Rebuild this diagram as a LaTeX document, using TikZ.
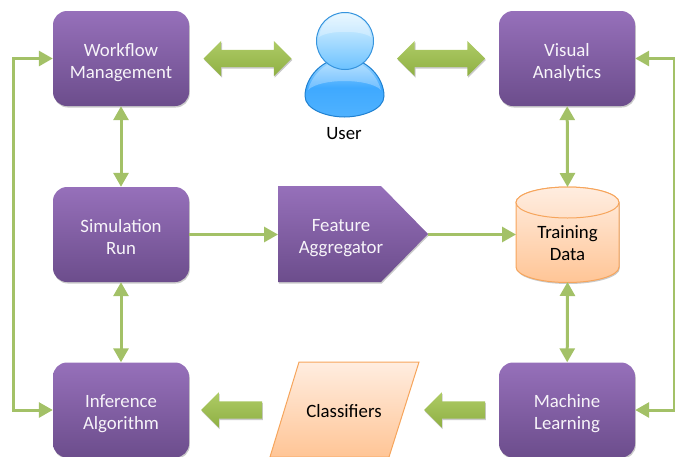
\documentclass[tikz,border=0pt]{standalone}
\usepackage{fontspec}
\setmainfont{Carlito}
\usetikzlibrary{arrows.meta,shapes.geometric,shapes.arrows,shadows,calc}
\definecolor{pTop}{HTML}{9670BA}
\definecolor{pBot}{HTML}{6C4D8C}
\definecolor{gLine}{HTML}{A3C167}
\definecolor{gTop}{HTML}{AECB66}
\definecolor{gBot}{HTML}{8FB043}
\definecolor{oTop}{HTML}{FFEDE0}
\definecolor{oBot}{HTML}{FFC596}
\definecolor{oLine}{HTML}{F6A55C}
\definecolor{uLine}{HTML}{1F80D0}
\definecolor{uHeadA}{HTML}{E2F5FF}
\definecolor{uHeadB}{HTML}{9BD6FF}
\definecolor{uHeadC}{HTML}{6CC2FF}
\definecolor{uBodyA}{HTML}{A5DBFF}
\definecolor{uBodyB}{HTML}{3FA9FF}
\definecolor{uBodyC}{HTML}{4FB2FF}
\newcommand{\twolines}[2]{\raisebox{-8.5pt}[0pt][0pt]{\begin{tabular}{@{}c@{}}#1\\#2\end{tabular}}}
\tikzset{
  x=1pt,y=-1pt,
  lbl/.style={font=\fontsize{18.8}{22}\selectfont,align=center,inner sep=0},
  softshadow/.style={drop shadow={shadow xshift=0.8pt,shadow yshift=-1.5pt,opacity=.35,fill=black!60}},
  pbox/.style={lbl,text=white!92!pTop,rectangle,rounded corners=14pt,minimum width=136pt,minimum height=95pt,
     top color=pTop,bottom color=pBot,softshadow},
  link/.style={draw=gLine,line width=3pt,-{Triangle[width=15pt,length=14pt]}},
  linkboth/.style={draw=gLine,line width=3pt,{Triangle[width=15pt,length=14pt]}-{Triangle[width=15pt,length=14pt]}},
  fatboth/.style={double arrow,double arrow head extend=9pt,minimum height=88pt,inner sep=0,
     top color=gTop,bottom color=gBot,softshadow},
  fatleft/.style={single arrow,shape border rotate=180,single arrow head extend=9pt,minimum height=61pt,inner sep=0,
     top color=gTop,bottom color=gBot,softshadow},
  orangefill/.style={draw=oLine,line width=1pt,top color=oTop,bottom color=oBot},
}
\newcommand{\shaftstrut}{\rule{0pt}{17pt}}
\begin{document}
\begin{tikzpicture}
\path[use as bounding box] (0,0) rectangle (675,456);
\clip (0,0) rectangle (675,456);
% boxes
\node[pbox] (wf) at (121,58.5) {\twolines{Workflow}{Management}};
\node[pbox] (va) at (567,58.5) {\twolines{Visual}{Analytics}};
\node[pbox] (sim) at (121,234.5) {\twolines{Simulation}{Run}};
\node[pbox] (inf) at (121,410) {\twolines{Inference}{Algorithm}};
\node[pbox] (ml) at (567,410) {\twolines{Machine}{Learning}};
% feature aggregator
\path[top color=pTop,bottom color=pBot,softshadow]
  (278,186) -- (381,186) -- (428,234) -- (381,282) -- (278,282) -- cycle;
\node[lbl,text=white!92!pTop] (fa) at (341,238) {Feature\\Aggregator};
\coordinate (faL) at (278,234.5);
\coordinate (faR) at (428,234.5);
% cylinder
\path[orangefill,softshadow]
  (516,202.5) arc[start angle=180,end angle=360,x radius=51.5pt,y radius=-15.5pt]
  -- (619,267) arc[start angle=0,end angle=180,x radius=51.5pt,y radius=-15.5pt] -- cycle;
\path[orangefill,top color=oTop,bottom color=oTop!70!oBot]
  (567.5,202.5) ellipse[x radius=51.5pt,y radius=15.5pt];
\node[lbl,text=black] (td) at (567.5,243.5) {Training\\Data};
\coordinate (tdT) at (567.5,187);
\coordinate (tdB) at (567.5,282);
\coordinate (tdW) at (516,234.5);
% classifiers
\path[orangefill] (299,362) -- (419,362) -- (389,457) -- (270,457) -- cycle;
\node[lbl,text=black] (cl) at (344,411) {Classifiers};
% fat arrows
\node[fatboth] (f1) at (247.5,58.5) {\shaftstrut};
\node[fatboth] (f2) at (441,58.5) {\shaftstrut};
\node[fatleft] (f3) at (236,410) {\shaftstrut};
\node[fatleft] (f4) at (459,410) {\shaftstrut};
% user
\coordinate (uc) at (345,41);
\path[draw=uLine,line width=1pt,top color=uBodyA,bottom color=uBodyC,middle color=uBodyB]
  (344.5,58) .. controls (322,58) and (305,78) .. (305,96)
  .. controls (305,110) and (328,117) .. (344.5,117)
  .. controls (361,117) and (384,110) .. (384,96)
  .. controls (384,78) and (367,58) .. (344.5,58) -- cycle;
\fill[white,opacity=.28] (308,90) .. controls (320,78) and (369,78) .. (381,90)
  .. controls (376,72) and (360,60) .. (344.5,60) .. controls (329,60) and (313,72) .. (308,90) -- cycle;
\node[circle,minimum size=57pt,inner sep=0,draw=uLine!70!uHeadC,line width=1pt,
   top color=uHeadA,middle color=uHeadB,bottom color=uHeadC] (user) at (uc) {};
\fill[white,opacity=.3] (319,37) .. controls (329,30) and (361,30) .. (371,37)
  .. controls (369,22) and (357,14) .. (345,14) .. controls (333,14) and (321,22) .. (319,37) -- cycle;
\node[lbl,text=black] (ut) at (344,134) {User};
% connectors
\draw[linkboth] (wf) -- (sim);
\draw[linkboth] (sim) -- (inf);
\draw[linkboth] (va) -- (tdT);
\draw[linkboth] (tdB) -- (ml);
\draw[link] (sim) -- (faL);
\draw[link] (faR) -- (tdW);
\coordinate (lx) at (13,234);
\coordinate (rx) at (674,234);
\draw[linkboth] (wf.west) -| (lx) |- (inf.west);
\draw[linkboth] (va.east) -| (rx) |- (ml.east);
\end{tikzpicture}
\end{document}
